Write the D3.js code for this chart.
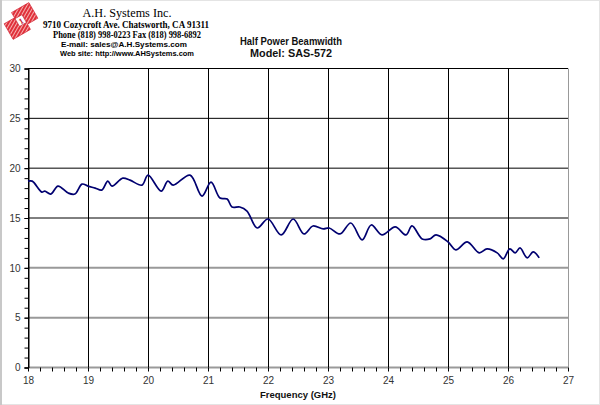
<!DOCTYPE html>
<html>
<head>
<meta charset="utf-8">
<script src="https://cdn.jsdelivr.net/npm/d3@7"></script>
<style>
  body { margin: 0; background: #fff; }
  svg { display: block; }
</style>
</head>
<body>
<svg id="chart" width="600" height="405"></svg>
<script>
// frequency (GHz) / half power beamwidth (deg)
const freqs = [18.00, 18.07, 18.23, 18.28, 18.38, 18.50, 18.67, 18.78, 18.90, 19.00,
  19.12, 19.23, 19.33, 19.40, 19.58, 19.70, 19.90, 20.00, 20.22, 20.33,
  20.42, 20.70, 20.90, 21.05, 21.20, 21.32, 21.40, 21.53, 21.65, 21.82,
  22.00, 22.22, 22.42, 22.60, 22.75, 22.92, 23.02, 23.20, 23.38, 23.57,
  23.72, 23.90, 24.12, 24.30, 24.40, 24.57, 24.70, 24.80, 25.00, 25.13,
  25.32, 25.52, 25.65, 25.82, 25.92, 26.03, 26.12, 26.20, 26.32, 26.42, 26.52];
const beamwidth = [18.7, 18.7, 17.6, 17.7, 17.4, 18.2, 17.5, 17.4, 18.4, 18.2,
  18.0, 17.8, 18.7, 18.2, 19.0, 18.8, 18.3, 19.3, 17.7, 18.7,
  18.3, 19.3, 17.2, 18.6, 17.0, 16.9, 16.1, 16.1, 15.7, 14.0,
  14.9, 13.3, 14.9, 13.4, 14.2, 13.9, 14.0, 13.4, 14.5, 12.8,
  14.3, 13.3, 14.1, 13.3, 14.2, 12.9, 12.9, 13.3, 12.6, 11.8,
  12.6, 11.5, 11.9, 11.5, 10.9, 11.9, 11.5, 12.0, 11.0, 11.6, 11.0];

const xTicks = [18, 19, 20, 21, 22, 23, 24, 25, 26, 27];
const yTicks = [0, 5, 10, 15, 20, 25, 30];
const companyLines = [
  "A.H. Systems Inc.",
  "9710 Cozycroft Ave. Chatsworth, CA 91311",
  "Phone (818) 998-0223 Fax (818) 998-6892",
  "E-mail:  sales@A.H.Systems.com",
  "Web site:  http://www.AHSystems.com"
];
const titleLines = ["Half Power Beamwidth", "Model: SAS-572"];
const xTitle = "Frequency (GHz)";

const svg = d3.select("#chart");
const margins = { left: 28, right: 32, top: 68.5, bottom: 37.5 };
const W = 600, H = 405;

const x = d3.scaleLinear().domain([18, 27]).range([margins.left, W - margins.right]);
const y = d3.scaleLinear().domain([0, 30]).range([H - margins.bottom, margins.top]);

// outer frame
svg.append("rect").attr("x", 0.5).attr("y", 0.5).attr("width", W - 1).attr("height", H - 1)
  .attr("fill", "none").attr("stroke", "#e4e4e4");
svg.append("line").attr("x1", 1).attr("x2", 1).attr("y1", 0).attr("y2", H)
  .attr("stroke", "#c8c8c8").attr("stroke-width", 2);

// horizontal grid: upper lines black, lower ones grey and thicker (as in the original)
yTicks.forEach(v => {
  const grey = v <= 10;
  svg.append("line")
    .attr("x1", x(18)).attr("x2", x(27))
    .attr("y1", y(v)).attr("y2", y(v))
    .attr("stroke", grey ? "#999" : "#000")
    .attr("stroke-width", grey ? 2 : 1);
});

// vertical grid
xTicks.forEach(f => {
  svg.append("line")
    .attr("x1", Math.round(x(f)) + 0.5).attr("x2", Math.round(x(f)) + 0.5)
    .attr("y1", y(30)).attr("y2", y(0))
    .attr("stroke", f == 27 ? "#999" : "#000")
    .attr("stroke-width", 1);
});

// y axis with minor ticks
const yMinor = d3.range(0, 31, 1);
svg.append("g")
  .attr("transform", `translate(${margins.left + 0.5},0)`)
  .call(d3.axisLeft(y).tickValues(yMinor).tickSize(4).tickFormat(""))
  .call(g => g.select(".domain").attr("stroke", "#000"))
  .call(g => g.selectAll(".tick line").attr("stroke", "#000"));
svg.append("g")
  .attr("transform", `translate(${margins.left + 0.5},0)`)
  .call(d3.axisLeft(y).tickValues(yTicks).tickSize(4).tickPadding(4))
  .call(g => g.select(".domain").remove())
  .call(g => g.selectAll("text").attr("font-family", "Arial, 'Liberation Sans', sans-serif")
    .attr("font-size", 10).attr("fill", "#333"));

// x axis with minor ticks
const xMinor = d3.range(0, 46).map(i => 18 + i * 0.2);
svg.append("g")
  .attr("transform", `translate(0,${y(0)})`)
  .call(d3.axisBottom(x).tickValues(xMinor).tickSize(4).tickFormat(""))
  .call(g => g.select(".domain").remove())
  .call(g => g.selectAll(".tick line").attr("stroke", "#000"));
svg.append("g")
  .attr("transform", `translate(0,${y(0)})`)
  .call(d3.axisBottom(x).tickValues(xTicks).tickSize(0).tickPadding(9))
  .call(g => g.select(".domain").remove())
  .call(g => g.selectAll("text").attr("font-family", "Arial, 'Liberation Sans', sans-serif")
    .attr("font-size", 10).attr("fill", "#333"));

// data line
const line = d3.line()
  .x((d, i) => x(freqs[i]))
  .y(d => y(d))
  .curve(d3.curveCatmullRom.alpha(0.5));
svg.append("path")
  .datum(beamwidth)
  .attr("d", line)
  .attr("fill", "none")
  .attr("stroke", "#000070")
  .attr("stroke-width", 1.7)
  .attr("stroke-linejoin", "round");

// chart title
svg.append("text").attr("x", 291).attr("y", 45).attr("text-anchor", "middle")
  .attr("font-family", "Arial, 'Liberation Sans', sans-serif").attr("font-weight", "bold")
  .attr("font-size", 10).attr("fill", "#111")
  .attr("textLength", 102).attr("lengthAdjust", "spacingAndGlyphs")
  .text(titleLines[0]);
svg.append("text").attr("x", 291).attr("y", 56.5).attr("text-anchor", "middle")
  .attr("font-family", "Arial, 'Liberation Sans', sans-serif").attr("font-weight", "bold")
  .attr("font-size", 10).attr("fill", "#111")
  .attr("textLength", 82).attr("lengthAdjust", "spacingAndGlyphs")
  .text(titleLines[1]);

// x axis title
svg.append("text").attr("x", 298).attr("y", 398).attr("text-anchor", "middle")
  .attr("font-family", "Arial, 'Liberation Sans', sans-serif").attr("font-weight", "bold")
  .attr("font-size", 9.5).attr("fill", "#111")
  .text(xTitle);

// company header
const header = [
  { x: 127, y: 16.5, size: 13, w: 89, font: "'Times New Roman', 'Liberation Serif', serif", bold: false },
  { x: 126, y: 27.5, size: 10.5, w: 166, font: "'Times New Roman', 'Liberation Serif', serif", bold: true },
  { x: 127, y: 38, size: 9.5, w: 148, font: "'Times New Roman', 'Liberation Serif', serif", bold: true },
  { x: 124, y: 47, size: 8, w: 126, font: "Arial, 'Liberation Sans', sans-serif", bold: true },
  { x: 127, y: 56, size: 8, w: 134, font: "Arial, 'Liberation Sans', sans-serif", bold: true }
];
header.forEach((h, i) => {
  svg.append("text").attr("x", h.x).attr("y", h.y).attr("text-anchor", "middle")
    .attr("font-family", h.font).attr("font-weight", h.bold ? "bold" : "normal")
    .attr("font-size", h.size).attr("fill", "#000")
    .attr("textLength", h.w).attr("lengthAdjust", "spacingAndGlyphs")
    .text(companyLines[i]);
});

// logo: red striped tilted block
const defs = svg.append("defs");
const pat = defs.append("pattern").attr("id", "stripes").attr("patternUnits", "userSpaceOnUse")
  .attr("width", 3).attr("height", 3).attr("patternTransform", "rotate(-30)");
pat.append("rect").attr("width", 3).attr("height", 3).attr("fill", "#e0303a");
pat.append("rect").attr("width", 3).attr("height", 1).attr("fill", "#f6b0b0");
const logo = svg.append("g").attr("transform", "translate(21,21) rotate(-30)");
logo.append("path")
  .attr("d", "M-16,-6 L-4,-6 L-4,-12 L16,-12 L16,6 L4,6 L4,12 L-16,12 Z")
  .attr("fill", "url(#stripes)").attr("stroke", "#d02030").attr("stroke-width", 0.6);
logo.append("rect").attr("x", -4).attr("y", -5).attr("width", 8).attr("height", 9)
  .attr("fill", "#fff").attr("stroke", "#c02030").attr("stroke-width", 0.6);
logo.append("text").attr("x", 0).attr("y", 3).attr("text-anchor", "middle")
  .attr("font-family", "'Liberation Serif', serif").attr("font-weight", "bold")
  .attr("font-size", 8).attr("fill", "#c02030").text("1");
</script>
</body>
</html>
